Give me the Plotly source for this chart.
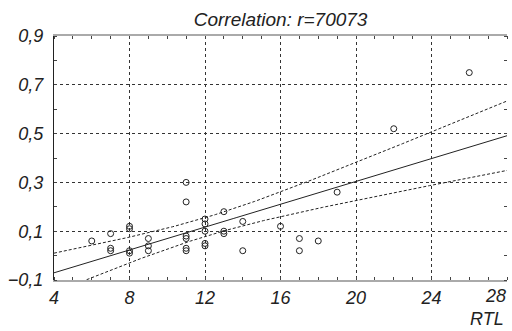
import numpy as np
import plotly.graph_objects as go

# Data (RTL vs value)
rtl = [6, 7, 7, 7, 8, 8, 8, 8, 9, 9, 9,
       11, 11, 11, 11, 11, 11, 12, 12, 12, 12, 12,
       13, 13, 13, 14, 14, 16, 17, 17, 18, 19, 22, 26]
val = [0.06, 0.09, 0.03, 0.02, 0.12, 0.11, 0.02, 0.01, 0.07, 0.04, 0.02,
       0.30, 0.22, 0.08, 0.07, 0.03, 0.02, 0.15, 0.13, 0.10, 0.05, 0.04,
       0.18, 0.10, 0.09, 0.14, 0.02, 0.12, 0.07, 0.02, 0.06, 0.26, 0.52, 0.75]

title_text = "Correlation: r=70073"
x_title = "RTL"
x_ticks = [4, 8, 12, 16, 20, 24, 28]
y_ticks = [-0.1, 0.1, 0.3, 0.5, 0.7, 0.9]

x = np.array(rtl, dtype=float)
y = np.array(val, dtype=float)
n = len(x)
slope, intercept = np.polyfit(x, y, 1)
resid = y - (slope * x + intercept)
s = np.sqrt(np.sum(resid ** 2) / (n - 2))
xm = x.mean()
sxx = np.sum((x - xm) ** 2)
t_crit = 2.0369  # 95% two-sided, df = 32

xs = np.linspace(4, 28, 200)
yfit = slope * xs + intercept
half = t_crit * s * np.sqrt(1.0 / n + (xs - xm) ** 2 / sxx)

FONT = "Liberation Sans, Arial, sans-serif"
TXT = "#222"

fig = go.Figure()
fig.add_trace(go.Scatter(x=xs, y=yfit + half, mode="lines",
                         line=dict(color=TXT, width=1, dash="3px,2px"),
                         hoverinfo="skip"))
fig.add_trace(go.Scatter(x=xs, y=yfit - half, mode="lines",
                         line=dict(color=TXT, width=1, dash="3px,2px"),
                         hoverinfo="skip"))
fig.add_trace(go.Scatter(x=xs, y=yfit, mode="lines",
                         line=dict(color=TXT, width=1)))
fig.add_trace(go.Scatter(x=rtl, y=val, mode="markers",
                         marker=dict(symbol="circle-open", size=6,
                                     color=TXT, line=dict(width=1))))
# invisible trace to carry the right-hand minor-tick axis
fig.add_trace(go.Scatter(x=[4], y=[0.9], yaxis="y2", mode="markers",
                         marker=dict(opacity=0), hoverinfo="skip"))

minor_y = dict(dtick=0.1, tick0=0, ticks="inside", ticklen=3,
               tickcolor="#444", tickwidth=1, showgrid=False)

fig.update_layout(
    width=512, height=331,
    margin=dict(l=54, r=5, t=36, b=51),
    paper_bgcolor="white", plot_bgcolor="white",
    showlegend=False,
    separators=",.",
    font=dict(family=FONT, color=TXT, size=18),
    title=dict(text=title_text, x=0.548, xanchor="center", xref="container",
               y=1 - 19 / 331, yanchor="middle", yref="container",
               font=dict(family=FONT, size=19, style="italic", color=TXT)),
    xaxis=dict(range=[4, 28], tickvals=x_ticks[:-1], ticks="",
               showgrid=True, gridcolor="#333", griddash="dot", gridwidth=1,
               showline=True, linecolor="#aaa", linewidth=2, mirror="ticks",
               zeroline=False, ticklabelstandoff=0,
               tickfont=dict(family=FONT, size=18, style="italic", color=TXT),
               minor=dict(dtick=1, tick0=0, ticks="inside", ticklen=3,
                          tickcolor="#444", tickwidth=1, showgrid=False)),
    yaxis=dict(range=[-0.1, 0.9], tickvals=y_ticks, tickformat=".1f", ticks="",
               showgrid=True, gridcolor="#333", griddash="dot", gridwidth=1,
               showline=True, linecolor=TXT, linewidth=1, mirror=False,
               zeroline=False, ticklabelstandoff=6,
               tickfont=dict(family=FONT, size=18, style="italic", color=TXT),
               minor=minor_y),
    yaxis2=dict(range=[-0.1, 0.9], overlaying="y", side="right",
                tickvals=y_ticks, ticks="", showticklabels=False,
                showgrid=False, showline=False, zeroline=False,
                minor=minor_y),
    annotations=[
        dict(text=str(x_ticks[-1]), xref="x", yref="paper", x=x_ticks[-1], y=0,
             xanchor="right", yanchor="top", yshift=-4, xshift=1, showarrow=False,
             font=dict(family=FONT, size=18, style="italic", color=TXT)),
        dict(text=x_title, xref="paper", yref="paper", x=1.0, y=-51 / 244,
             xanchor="right", yanchor="bottom", xshift=-1, showarrow=False,
             font=dict(family=FONT, size=18, style="italic", color=TXT)),
    ],
)

fig.write_html("out.html")
